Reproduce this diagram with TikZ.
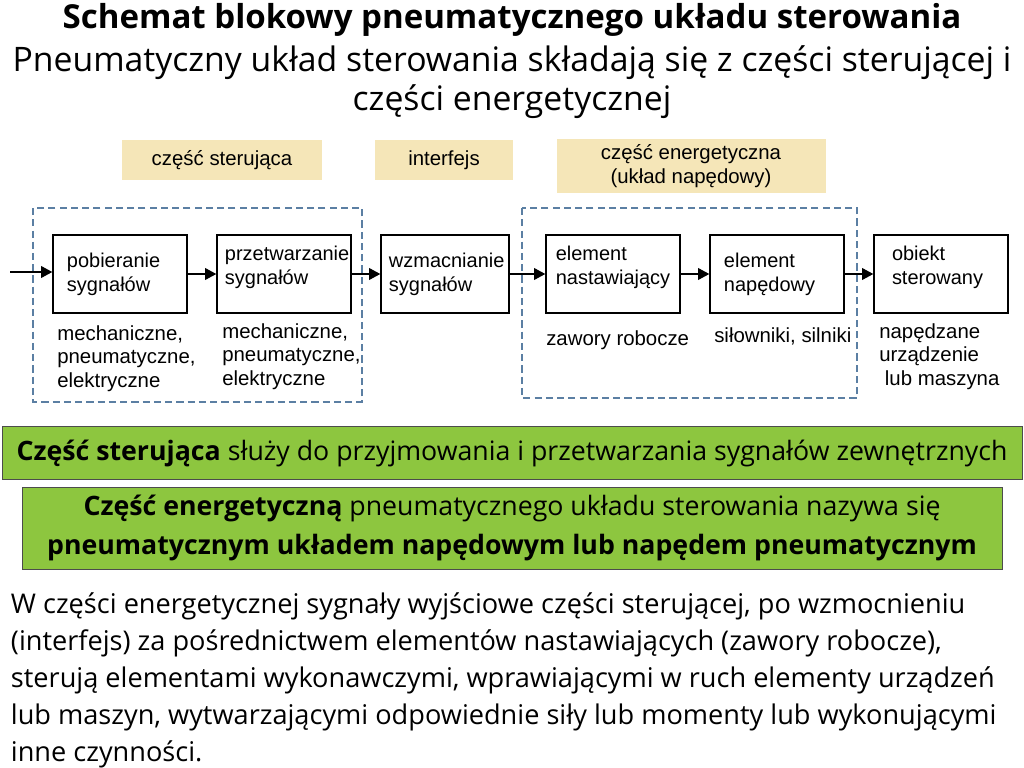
\documentclass[tikz,border=0pt]{standalone}
\usepackage{fontspec}
\setmainfont{Open Sans}
\newfontfamily\arialf{Liberation Sans}
\usetikzlibrary{positioning,arrows.meta}
\definecolor{tan}{HTML}{F5E6B8}
\definecolor{dashblue}{HTML}{5B7FA3}
\definecolor{barg}{HTML}{8DC63F}
\tikzset{
  blok/.style={draw,thick,minimum width=134*0.025cm,minimum height=78*0.025cm,align=left,font=\arialf\fontsize{14.2}{17}\selectfont,inner sep=2pt},
  tag/.style={fill=tan,align=center,font=\arialf\fontsize{14.5}{17.5}\selectfont},
  opis/.style={align=left,font=\arialf\fontsize{14.5}{17}\selectfont,anchor=north west,inner sep=0pt},
  ramka/.style={draw=dashblue,thick,dashed,dash pattern=on 5pt off 3pt},
  strz/.style={-{Triangle[length=8pt,width=8pt]},line width=1.8pt},
  pasek/.style={fill=barg,draw=black!70,align=center,font=\fontsize{19}{28}\selectfont}
}
\begin{document}
\begin{tikzpicture}[x=0.025cm,y=-0.025cm]
\useasboundingbox (0,0) rectangle (1024,768);
% Titles
\node[font=\fontsize{23.5}{28}\selectfont\bfseries] (tytul) at (512,20) {Schemat blokowy pneumatycznego układu sterowania};
\node[align=center,font=\fontsize{24}{28}\selectfont] (podtytul) at (512,82) {Pneumatyczny układ sterowania składają się z części sterującej i\\części energetycznej};

% Tags
\node[tag,minimum width=200*0.025cm,minimum height=40*0.025cm] (tagster) at (222,160) {część sterująca};
\node[tag,minimum width=138*0.025cm,minimum height=40*0.025cm] (tagint) at (444,160) {interfejs};
\node[tag,minimum width=269*0.025cm,minimum height=53*0.025cm] (tagen) at (691,166) {część energetyczna\\(układ napędowy)};

% Dashed frames
\draw[ramka] (33,208) rectangle (362,402);
\draw[ramka] (522,208) rectangle (857,398);

% Blocks
\node[blok] (pob) at (120,274) {\makebox[2.65cm][l]{pobieranie}\\sygnałów};
\node[blok] (prz) at (284,274) {\makebox[2.95cm][l]{przetwarzanie}\\sygnałów\\[-4pt]};
\node[blok,minimum width=128*0.025cm] (wzm) at (445,274) {\makebox[2.8cm][l]{wzmacnianie}\\sygnałów};
\node[blok] (nast) at (613,274) {\makebox[2.85cm][l]{element}\\nastawiający\\[-4pt]};
\node[blok] (nap) at (777,274) {\makebox[2.65cm][l]{element}\\napędowy};
\node[blok] (obi) at (941,274) {\makebox[2.45cm][l]{obiekt}\\sterowany\\[-4pt]};
\coordinate (wej) at (10,272);

% Arrows
\draw[strz] (wej) -- (pob.west |- wej);
\draw[strz] (pob) -- (prz);
\draw[strz] (prz) -- (wzm);
\draw[strz] (wzm) -- (nast);
\draw[strz] (nast) -- (nap);
\draw[strz] (nap) -- (obi);

% Descriptions
\node[opis] (opis1) at (57,325) {mechaniczne,\\pneumatyczne,\\elektryczne};
\node[opis] (opis2) at (222,323) {mechaniczne,\\pneumatyczne,\\elektryczne};
\node[opis] (opis3) at (546,330) {zawory robocze};
\node[opis] (opis4) at (714,327) {siłowniki, silniki};
\node[opis,align=left] (opis5) at (879,323) {napędzane\\urządzenie\\\ lub maszyna};

% Green bars
\node[pasek,minimum width=1020*0.025cm,minimum height=53*0.025cm] (pasek1) at (512,453) {\textbf{Część sterująca} służy do przyjmowania i przetwarzania sygnałów zewnętrznych};
\node[pasek,minimum width=980*0.025cm,minimum height=82*0.025cm] (pasek2) at (512,528) {\textbf{Część energetyczną} pneumatycznego układu sterowania nazywa się\\\textbf{pneumatycznym układem napędowym lub napędem pneumatycznym}};

% Paragraph
\node[anchor=north west,align=left,font=\fontsize{19.3}{26.3}\selectfont] (tekst) at (6,588) {W części energetycznej sygnały wyjściowe części sterującej, po wzmocnieniu\\(interfejs) za pośrednictwem elementów nastawiających (zawory robocze),\\sterują elementami wykonawczymi, wprawiającymi w ruch elementy urządzeń\\lub maszyn, wytwarzającymi odpowiednie siły lub momenty lub wykonującymi\\inne czynności.};
\end{tikzpicture}
\end{document}
